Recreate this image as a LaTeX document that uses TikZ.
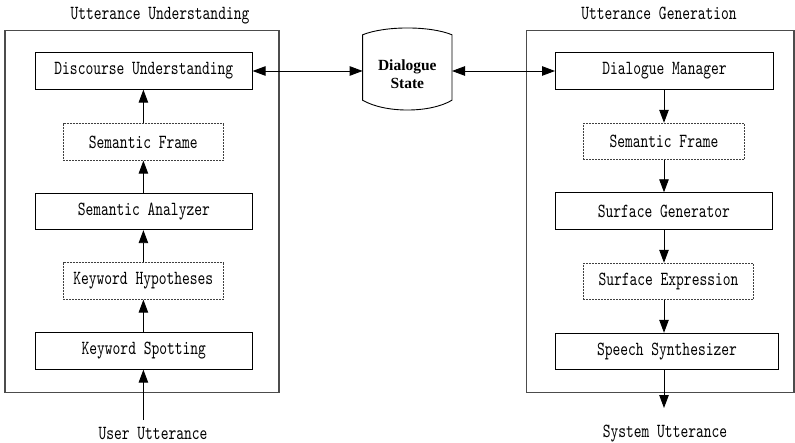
\documentclass[tikz,border=0pt]{standalone}
\usepackage{fontspec}
\usetikzlibrary{arrows.meta}
\newfontfamily\lblfont[FakeStretch=0.74]{lmmono10-regular.otf}
\newfontfamily\storefont{Liberation Serif}
\begin{document}
\begin{tikzpicture}[x=1pt,y=-1pt,
  lbl/.style={font=\lblfont\fontsize{20}{22}\selectfont, inner sep=0pt},
  caption/.style={lbl, anchor=base},
  stage/.style={lbl, draw, line width=0.9pt, minimum height=36.5pt, anchor=west},
  frame/.style={lbl, draw=black!75, line width=0.9pt, dash pattern=on 2pt off 1pt, minimum height=36.5pt, anchor=west},
  group/.style={draw=black!70, line width=1.3pt},
  arr/.style={-{Triangle[length=13pt,width=9.5pt]}, line width=0.9pt},
  darr/.style={{Triangle[length=13pt,width=9.5pt]}-{Triangle[length=13pt,width=9.5pt]}, line width=0.9pt}]
\useasboundingbox (0,0) rectangle (795,443);

% group outlines
\draw[group] (5,30.5) rectangle (279,392.5);
\draw[group] (526.5,30.5) rectangle (794,392.5);
\node[caption] (tl) at (160,19.5) {Utterance Understanding};
\node[caption] (tr) at (659,19.5) {Utterance Generation};

% understanding column
\coordinate (colL) at (143.4,0);
\node[stage, minimum width=216.7pt] (du) at (35,71) {Discourse Understanding};
\node[frame, minimum width=160.3pt] (sfl) at (62.7,142) {Semantic Frame};
\node[stage, minimum width=216.7pt] (sa) at (35,211.5) {Semantic Analyzer};
\node[frame, minimum width=160.3pt] (kh) at (62.7,281) {Keyword Hypotheses};
\node[stage, minimum width=216.7pt] (ks) at (35,351) {Keyword Spotting};
\coordinate (uin) at (143.4,420);
\node[caption] (uu) at (153,439) {User Utterance};

\draw[arr] (uin) -- (ks.south -| colL);
\draw[arr] (ks.north -| colL) -- (kh.south -| colL);
\draw[arr] (kh.north -| colL) -- (sa.south -| colL);
\draw[arr] (sa.north -| colL) -- (sfl.south -| colL);
\draw[arr] (sfl.north -| colL) -- (du.south -| colL);

% generation column
\coordinate (colR) at (664,0);
\node[stage, minimum width=218pt] (dm) at (555,71) {Dialogue Manager};
\node[frame, minimum width=161pt] (sfr) at (583,141.5) {Semantic Frame};
\node[stage, minimum width=217pt] (sg) at (555,211) {Surface Generator};
\node[frame, minimum width=170pt] (se) at (583,281.5) {Surface Expression};
\node[stage, minimum width=223pt] (ss) at (555,351.5) {Speech Synthesizer};
\coordinate (uout) at (664,408);
\node[caption] (su) at (665,437.5) {System Utterance};

\draw[arr] (dm.south -| colR) -- (sfr.north -| colR);
\draw[arr] (sfr.south -| colR) -- (sg.north -| colR);
\draw[arr] (sg.south -| colR) -- (se.north -| colR);
\draw[arr] (se.south -| colR) -- (ss.north -| colR);
\draw[arr] (ss.south -| colR) -- (uout);

% dialogue state store
\node[minimum width=89pt, minimum height=65pt, inner sep=0pt] (ds) at (407.3,67.5) {};
\draw[line width=0.9pt]
  (ds.north west) .. controls (385,25.7) and (430,25.7) .. (ds.north east)
  -- (ds.south east) .. controls (430,113.3) and (385,113.3) .. (ds.south west)
  -- cycle;
\node[font=\storefont\bfseries\fontsize{15.5}{18}\selectfont, align=center, inner sep=0pt]
  (dst) at (407.3,74) {Dialogue\\State};

\draw[darr] (du.east) -- (du.east -| ds.west);
\draw[darr] (dm.west -| ds.east) -- (dm.west);
\end{tikzpicture}
\end{document}
